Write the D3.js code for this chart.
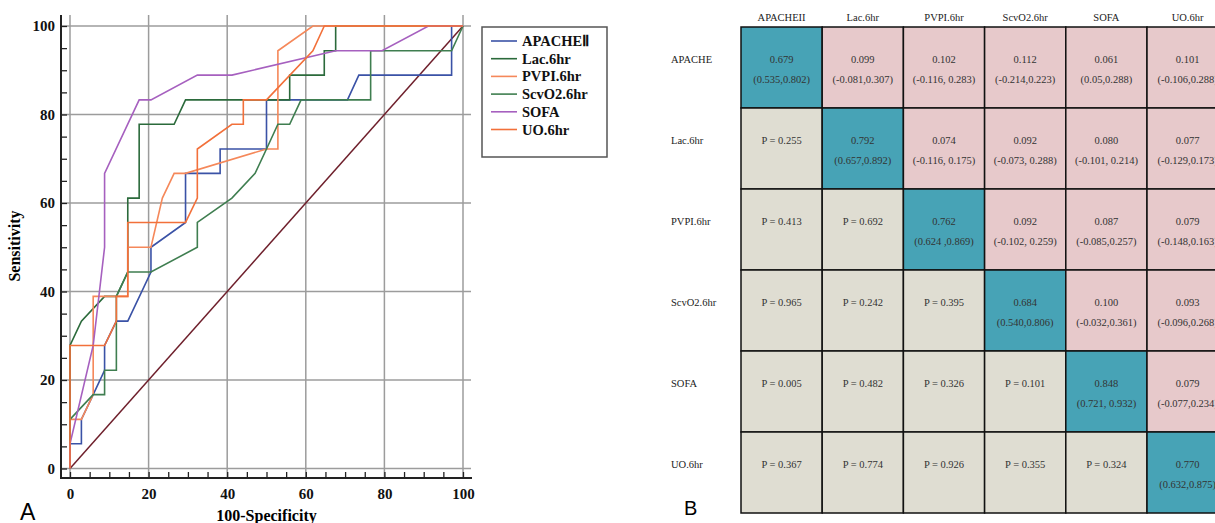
<!DOCTYPE html>
<html>
<head>
<meta charset="utf-8">
<script src="https://cdn.jsdelivr.net/npm/d3@7"></script>
<style>
  body { margin: 0; background: #fff; }
  svg { display: block; }
</style>
</head>
<body>
<script>
// ROC curves, points are [100-Specificity, Sensitivity]
var seriesNames = ["APACHEⅡ", "Lac.6hr", "PVPI.6hr", "ScvO2.6hr", "SOFA", "UO.6hr"];
var seriesColors = ["#3a52a6", "#2b6a3b", "#f5885a", "#3f7e50", "#a660bf", "#f2703a"];

var apacheRoc = [[0,0],[0,5.6],[2.9,5.6],[2.9,11.1],[5.9,16.7],[8.8,22.2],[8.8,27.8],[11.8,33.3],[14.7,33.3],[20.6,44.4],[20.6,50],[29.4,55.6],[29.4,66.7],[38.2,66.7],[38.2,72.2],[50,72.2],[50,83.3],[70.6,83.3],[73.5,88.9],[97.1,88.9],[97.1,100],[100,100]];
var lacRoc = [[0,0],[0,27.8],[2.9,33.3],[8.8,38.9],[11.8,38.9],[14.7,44.4],[14.7,61.1],[17.6,61.1],[17.6,77.8],[26.5,77.8],[29.4,83.3],[55.9,83.3],[55.9,88.9],[64.7,88.9],[64.7,94.4],[67.6,94.4],[67.6,100],[100,100]];
var pvpiRoc = [[0,0],[0,11.1],[2.9,11.1],[5.9,16.7],[5.9,38.9],[14.7,38.9],[14.7,50],[20.6,50],[23.5,61.1],[26.5,66.7],[29.4,66.7],[50,72.2],[52.9,72.2],[52.9,94.4],[61.8,100],[100,100]];
var scvo2Roc = [[0,0],[0,11.1],[5.9,16.7],[8.8,16.7],[8.8,22.2],[11.8,22.2],[11.8,38.9],[14.7,44.4],[20.6,44.4],[32.4,50],[32.4,55.6],[41.2,61.1],[47.1,66.7],[50,72.2],[52.9,77.8],[55.9,77.8],[58.8,83.3],[76.5,83.3],[76.5,94.4],[97.1,94.4],[100,100]];
var sofaRoc = [[0,0],[0,5.6],[5.9,27.8],[8.8,50],[8.8,66.7],[17.6,83.3],[20.6,83.3],[32.4,88.9],[41.2,88.9],[67.6,94.4],[79.4,94.4],[91.2,100],[100,100]];
var uoRoc = [[0,0],[0,27.8],[8.8,27.8],[11.8,33.3],[11.8,38.9],[14.7,38.9],[14.7,55.6],[29.4,55.6],[32.4,61.1],[32.4,72.2],[41.2,77.8],[44.1,77.8],[44.1,83.3],[50,83.3],[61.8,94.4],[64.7,100],[100,100]];
var referenceLine = [[0,0],[100,100]];

var majorTicks = [0, 20, 40, 60, 80, 100];
var minorTicks = [0, 5, 10, 15, 20, 25, 30, 35, 40, 45, 50, 55, 60, 65, 70, 75, 80, 85, 90, 95, 100];

// pairwise comparison matrix
var matrixCols = ["APACHEII", "Lac.6hr", "PVPI.6hr", "ScvO2.6hr", "SOFA", "UO.6hr"];
var matrixRows = ["APACHE", "Lac.6hr", "PVPI.6hr", "ScvO2.6hr", "SOFA", "UO.6hr"];
var aucValues = ["0.679", "0.792", "0.762", "0.684", "0.848", "0.770"];
var aucCI = ["(0.535,0.802)", "(0.657,0.892)", "(0.624 ,0.869)", "(0.540,0.806)", "(0.721, 0.932)", "(0.632,0.875)"];
var diffValues = [
  ["0.099", "0.102", "0.112", "0.061", "0.101"],
  ["0.074", "0.092", "0.080", "0.077"],
  ["0.092", "0.087", "0.079"],
  ["0.100", "0.093"],
  ["0.079"]
];
var diffCI = [
  ["(-0.081,0.307)", "(-0.116, 0.283)", "(-0.214,0.223)", "(0.05,0.288)", "(-0.106,0.288)"],
  ["(-0.116, 0.175)", "(-0.073, 0.288)", "(-0.101, 0.214)", "(-0.129,0.173)"],
  ["(-0.102, 0.259)", "(-0.085,0.257)", "(-0.148,0.163)"],
  ["(-0.032,0.361)", "(-0.096,0.268)"],
  ["(-0.077,0.234)"]
];
var pValues = [
  [],
  ["0.255"],
  ["0.413", "0.692"],
  ["0.965", "0.242", "0.395"],
  ["0.005", "0.482", "0.326", "0.101"],
  ["0.367", "0.774", "0.926", "0.355", "0.324"]
];

var rocSeries = [apacheRoc, lacRoc, pvpiRoc, scvo2Roc, sofaRoc, uoRoc];
var serif = "'Liberation Serif', 'Times New Roman', serif";
var sans = "'Liberation Sans', Arial, sans-serif";

var svg = d3.select("body").
append("svg").
attr("width", 1215).
attr("height", 523);

// ---------- panel A ----------
var x = d3.scaleLinear().domain([0, 100]).range([70, 463]);
var y = d3.scaleLinear().domain([0, 100]).range([468.5, 26]);

var grid = svg.append("g").attr("class", "grid");
grid.selectAll(".vgrid").
data(majorTicks).
enter().append("line").
attr("x1", function (d) {return x(d);}).
attr("x2", function (d) {return x(d);}).
attr("y1", 15).
attr("y2", 478).
attr("stroke", "#9c9c9c").
attr("stroke-width", 1.5);
grid.selectAll(".hgrid").
data(majorTicks).
enter().append("line").
attr("x1", 61).
attr("x2", 471).
attr("y1", function (d) {return y(d);}).
attr("y2", function (d) {return y(d);}).
attr("stroke", "#9c9c9c").
attr("stroke-width", 1.5);

// axes, inward minor ticks every 5
var yAxis = svg.append("g").
attr("transform", "translate(61,0)").
call(d3.axisLeft(y).
tickValues(minorTicks).
tickSize(-6).
tickSizeOuter(0).
tickPadding(6).
tickFormat(function (d) {return d % 20 === 0 ? d : "";}));
var xAxis = svg.append("g").
attr("transform", "translate(0,478)").
call(d3.axisBottom(x).
tickValues(minorTicks).
tickSize(-6).
tickSizeOuter(0).
tickPadding(10).
tickFormat(function (d) {return d % 20 === 0 ? d : "";}));
[yAxis, xAxis].forEach(function (a) {
  a.select(".domain").remove();
  a.selectAll(".tick line").attr("stroke", "#222").attr("stroke-width", 1.3);
  a.selectAll(".tick text").
  style("font-family", serif).
  style("font-size", "15px").
  style("font-weight", "bold").
  attr("fill", "#111");
});

svg.append("line").attr("x1", 61).attr("x2", 61).attr("y1", 15).attr("y2", 479).
attr("stroke", "#222").attr("stroke-width", 2);
svg.append("line").attr("x1", 60).attr("x2", 472).attr("y1", 478).attr("y2", 478).
attr("stroke", "#222").attr("stroke-width", 2);

var line = d3.line().
x(function (d) {return x(d[0]);}).
y(function (d) {return y(d[1]);});

svg.append("path").
datum(referenceLine).
attr("d", line).
attr("fill", "none").
attr("stroke", "#6e1f2b").
attr("stroke-width", 1.5);

svg.append("g").
selectAll("path").
data(rocSeries).
enter().append("path").
attr("d", line).
attr("fill", "none").
attr("stroke", function (d, i) {return seriesColors[i];}).
attr("stroke-width", 1.6).
attr("stroke-linejoin", "miter");

// axis titles
svg.append("text").
attr("transform", "translate(20,246) rotate(-90)").
attr("text-anchor", "middle").
style("font-family", serif).
style("font-size", "16px").
style("font-weight", "bold").
text("Sensitivity");
svg.append("text").
attr("x", (x(0) + x(100)) / 2).
attr("y", 521).
attr("text-anchor", "middle").
style("font-family", serif).
style("font-size", "16px").
style("font-weight", "bold").
text("100-Specificity");

// legend
var legend = svg.append("g").attr("class", "legend");
legend.append("rect").
attr("x", 482).
attr("y", 27).
attr("width", 125).
attr("height", 130).
attr("fill", "#fff").
attr("stroke", "#555").
attr("stroke-width", 1.5);
var item = legend.selectAll(".item").
data(seriesNames).
enter().append("g").
attr("transform", function (d, i) {return "translate(0," + (41 + i * 17.7) + ")";});
item.append("line").
attr("x1", 491).
attr("x2", 517).
attr("stroke", function (d, i) {return seriesColors[i];}).
attr("stroke-width", 1.6);
item.append("text").
attr("x", 522).
attr("dy", "0.35em").
style("font-family", serif).
style("font-size", "14.5px").
style("font-weight", "bold").
attr("fill", "#111").
text(function (d) {return d;});

svg.append("text").
attr("x", 20).
attr("y", 520).
style("font-family", sans).
style("font-size", "23px").
text("A");

// ---------- panel B ----------
var mx = d3.scaleBand().domain(d3.range(6)).range([741, 741 + 6 * 81.2]);
var my = d3.scaleBand().domain(d3.range(6)).range([27, 513]);

var cells = [];
matrixRows.forEach(function (r, i) {
  matrixCols.forEach(function (c, j) {
    if (i === j) cells.push({i: i, j: j, kind: "auc", top: aucValues[i], bottom: aucCI[i]});
    else if (j > i) cells.push({i: i, j: j, kind: "diff", top: diffValues[i][j - i - 1], bottom: diffCI[i][j - i - 1]});
    else cells.push({i: i, j: j, kind: "p", top: "P = " + pValues[i][j], bottom: ""});
  });
});
var cellFill = {auc: "#47a3b6", diff: "#e7c9cb", p: "#dfddd2"};

var cell = svg.append("g").
selectAll("g").
data(cells).
enter().append("g");
cell.append("rect").
attr("x", function (d) {return mx(d.j);}).
attr("y", function (d) {return my(d.i);}).
attr("width", mx.bandwidth()).
attr("height", my.bandwidth()).
attr("fill", function (d) {return cellFill[d.kind];}).
attr("stroke", "#111").
attr("stroke-width", 1.5);
cell.append("text").
attr("x", function (d) {return mx(d.j) + mx.bandwidth() / 2;}).
attr("y", function (d) {return my(d.i) + 36;}).
attr("text-anchor", "middle").
style("font-family", serif).
style("font-size", "10.5px").
attr("fill", "#333").
text(function (d) {return d.top;});
cell.append("text").
attr("x", function (d) {return mx(d.j) + mx.bandwidth() / 2;}).
attr("y", function (d) {return my(d.i) + 56;}).
attr("text-anchor", "middle").
style("font-family", serif).
style("font-size", "10.5px").
attr("fill", "#333").
text(function (d) {return d.bottom;});

svg.append("g").
selectAll("text").
data(matrixCols).
enter().append("text").
attr("x", function (d, j) {return mx(j) + mx.bandwidth() / 2;}).
attr("y", 21).
attr("text-anchor", "middle").
style("font-family", serif).
style("font-size", "10.5px").
attr("fill", "#222").
text(function (d) {return d;});

svg.append("g").
selectAll("text").
data(matrixRows).
enter().append("text").
attr("x", 671).
attr("y", function (d, i) {return my(i) + 36;}).
style("font-family", serif).
style("font-size", "10.5px").
attr("fill", "#222").
text(function (d) {return d;});

svg.append("text").
attr("x", 684).
attr("y", 515).
style("font-family", sans).
style("font-size", "20px").
text("B");
</script>
</body>
</html>
